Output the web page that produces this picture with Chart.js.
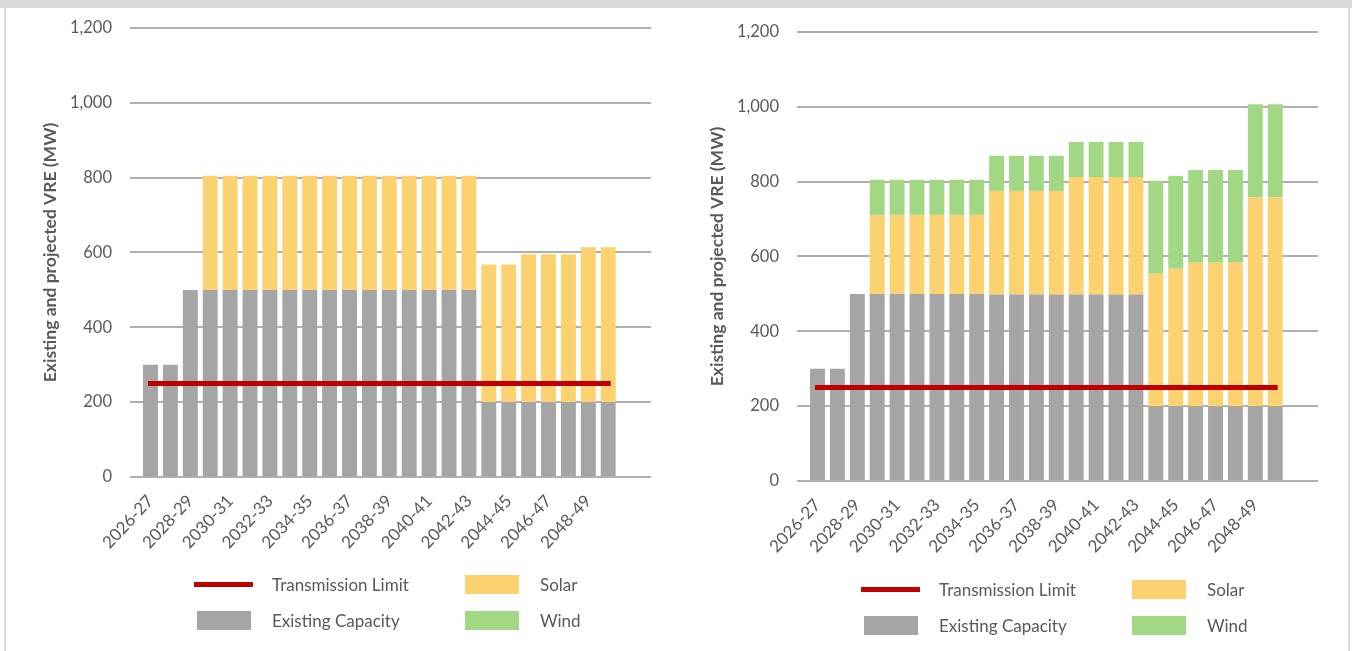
<!DOCTYPE html>
<html>
<head>
<meta charset="utf-8">
<script src="https://cdn.jsdelivr.net/npm/chart.js@4.4.1/dist/chart.umd.min.js"></script>
<style>
  html, body { margin: 0; padding: 0; background: #fff; width: 1352px; height: 651px; overflow: hidden; font-family: Lato, sans-serif; }
  .topbar { position: absolute; left: 0; top: 0; width: 1352px; height: 8px; background: #d9d9d9; }
  .edge { position: absolute; top: 8px; width: 2px; height: 643px; background: #d9d9d9; }
  .panel { position: absolute; width: 676px; height: 570px; }
  .panel canvas { display: block; }
  .legend { position: absolute; display: grid; grid-template-columns: 78px 193px 75px auto; grid-auto-rows: 36px; align-items: center; color: #595959; font-size: 17px; }
  .sw-line { width: 59px; height: 5px; }
  .sw-box { width: 54px; height: 19px; }
</style>
</head>
<body>
<div class="topbar"></div>
<div class="edge" style="left:4px"></div>
<div class="edge" style="left:1348px"></div>
<div class="panel" id="panelA" style="left:0px; top:0px;"><canvas id="chartA" width="676" height="570"></canvas></div>
<div class="panel" id="panelB" style="left:667px; top:4px;"><canvas id="chartB" width="676" height="570"></canvas></div>
<div class="legend" id="legendA" style="left:194px; top:566px;"></div>
<div class="legend" id="legendB" style="left:861px; top:571px;"></div>
<script>
// Financial years on the category axis
const categories = [
  '2026-27','2027-28','2028-29','2029-30','2030-31','2031-32','2032-33','2033-34',
  '2034-35','2035-36','2036-37','2037-38','2038-39','2039-40','2040-41','2041-42',
  '2042-43','2043-44','2044-45','2045-46','2046-47','2047-48','2048-49','2049-50'
];
// Only every second year is labelled
const xTickLabels = ['2026-27','2028-29','2030-31','2032-33','2034-35','2036-37',
                     '2038-39','2040-41','2042-43','2044-45','2046-47','2048-49'];
const yTicks = [0, 200, 400, 600, 800, 1000, 1200];

// Transmission limit (MW), same for both panels
const transmissionLimit = [250,250,250,250,250,250,250,250,250,250,250,250,
                           250,250,250,250,250,250,250,250,250,250,250,250];

// Left panel (MW)
const leftExisting = [300,300,500,500,500,500,500,500,500,500,500,500,
                      500,500,500,500,500,200,200,200,200,200,200,200];
const leftSolar    = [0,0,0,305,305,305,305,305,305,305,305,305,
                      305,305,305,305,305,368,368,395,395,395,414,414];
const leftWind     = [0,0,0,0,0,0,0,0,0,0,0,0,
                      0,0,0,0,0,0,0,0,0,0,0,0];

// Right panel (MW)
const rightExisting = [300,300,500,500,500,500,500,500,500,498,498,498,
                       498,498,498,498,498,200,200,200,200,200,200,200];
const rightSolar    = [0,0,0,211,211,211,211,211,211,277,277,277,
                       277,314,314,314,314,354,367,383,383,383,558,558];
const rightWind     = [0,0,0,94,94,94,94,94,94,94,94,94,
                       94,94,94,94,94,248,248,248,248,248,249,249];

const COLORS = { limit: '#C00000', existing: '#A5A5A5', solar: '#FCD16F', wind: '#A2D884' };
const TEXT = '#595959';
const FONT = 'Lato, "Open Sans", sans-serif';

Chart.defaults.font.family = FONT;
Chart.defaults.color = TEXT;

const toPoints = arr => arr.map((v, i) => ({ x: i, y: v }));

function buildChart(canvasId, existing, solar, wind) {
  const tickIdx = xTickLabels.map(l => categories.indexOf(l));
  return new Chart(document.getElementById(canvasId), {
    type: 'bar',
    data: {
      datasets: [
        { type: 'line', label: 'Transmission Limit', data: toPoints(transmissionLimit),
          borderColor: COLORS.limit, backgroundColor: COLORS.limit, borderWidth: 5,
          borderCapStyle: 'square', pointRadius: 0, order: 0 },
        { label: 'Existing Capacity', data: toPoints(existing), backgroundColor: COLORS.existing, order: 1 },
        { label: 'Solar', data: toPoints(solar), backgroundColor: COLORS.solar, order: 1 },
        { label: 'Wind', data: toPoints(wind), backgroundColor: COLORS.wind, order: 1 }
      ]
    },
    options: {
      responsive: false,
      animation: false,
      events: [],
      layout: { padding: { left: 0, right: 25, top: 27, bottom: 13 } },
      datasets: { bar: { barPercentage: 0.75, categoryPercentage: 1.0, borderWidth: 0 } },
      plugins: { legend: { display: false }, tooltip: { enabled: false } },
      scales: {
        x: {
          type: 'linear', stacked: true, min: -1.03, max: 25.15,
          offset: false, bounds: 'data',
          grid: { display: false, offset: false }, border: { display: false },
          afterBuildTicks: scale => { scale.ticks = tickIdx.map(v => ({ value: v })); },
          afterFit: scale => { scale.height = 80; },
          ticks: {
            autoSkip: false, minRotation: 47, maxRotation: 47, padding: 6,
            color: TEXT, font: { size: 17 },
            callback: v => categories[v] !== undefined ? categories[v] : ''
          }
        },
        y: {
          stacked: true, min: 0, max: 1200,
          afterBuildTicks: scale => { scale.ticks = yTicks.map(v => ({ value: v })); },
          afterFit: scale => { scale.width = 130; },
          grid: { color: '#AFAFAF', lineWidth: 2, drawTicks: false },
          border: { display: false },
          ticks: { padding: 18, color: TEXT, font: { size: 16.5 },
                   callback: v => v.toLocaleString('en-US') },
          title: { display: true, text: 'Existing and projected VRE (MW)', color: TEXT,
                   font: { size: 17.5, weight: 'bold' }, padding: { top: 40, bottom: 0 } }
        }
      }
    }
  });
}

// Legend laid out as a 2 x 2 grid: limit, solar / existing, wind
function buildLegend(chart, elId) {
  const order = ['Transmission Limit', 'Solar', 'Existing Capacity', 'Wind'];
  const el = document.getElementById(elId);
  order.forEach((name, k) => {
    const ds = chart.data.datasets.find(d => d.label === name);
    const sw = document.createElement('div');
    const isLine = ds.type === 'line';
    sw.className = isLine ? 'sw-line' : 'sw-box';
    sw.style.background = isLine ? ds.borderColor : ds.backgroundColor;
    if (!isLine && k % 2 === 0) sw.style.marginLeft = '3px';
    const cell = document.createElement('div');
    cell.appendChild(sw);
    const txt = document.createElement('div');
    txt.textContent = name;
    el.appendChild(cell);
    el.appendChild(txt);
  });
}

const chartA = buildChart('chartA', leftExisting, leftSolar, leftWind);
const chartB = buildChart('chartB', rightExisting, rightSolar, rightWind);
buildLegend(chartA, 'legendA');
buildLegend(chartB, 'legendB');
</script>
</body>
</html>
